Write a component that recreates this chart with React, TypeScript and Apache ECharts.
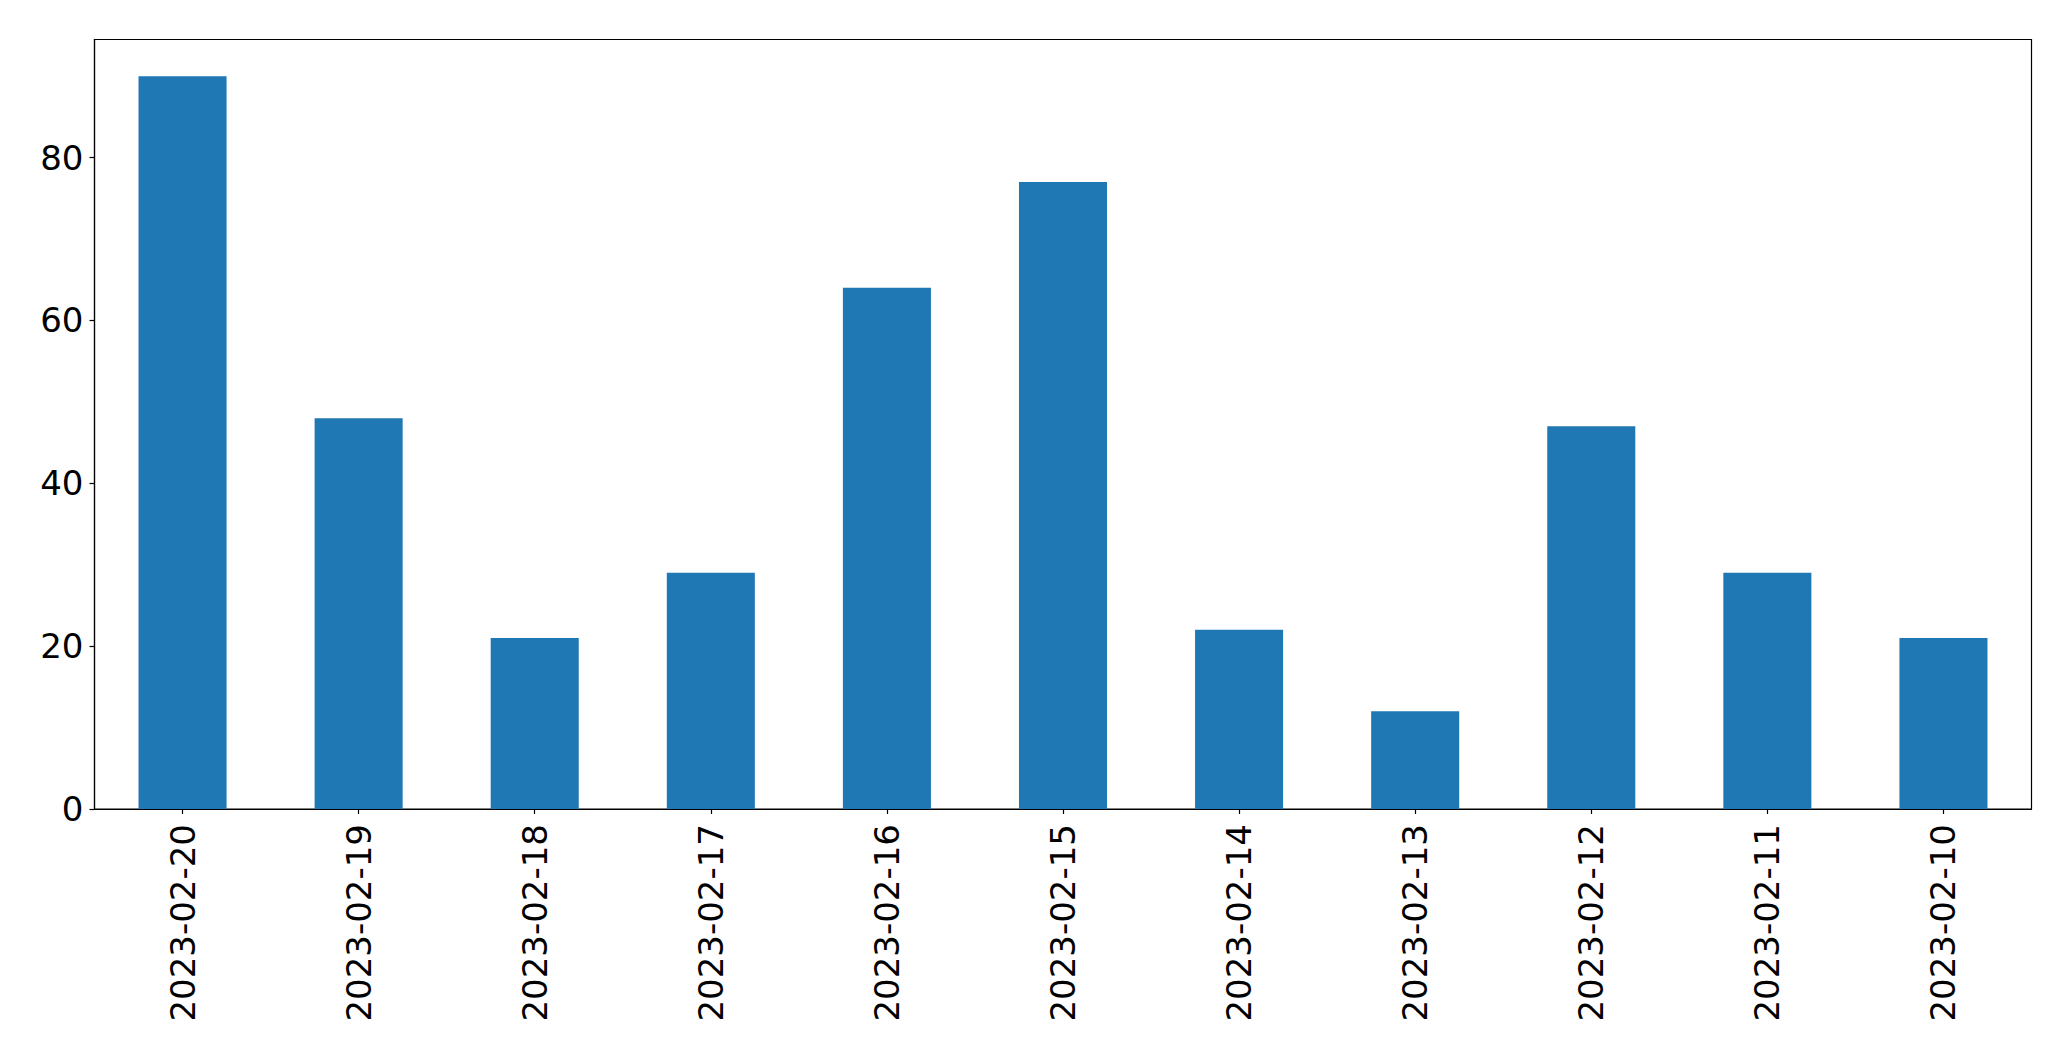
import React, { useEffect, useRef } from "react";
import * as echarts from "echarts";

const categories = [
  "2023-02-20", "2023-02-19", "2023-02-18", "2023-02-17", "2023-02-16", "2023-02-15",
  "2023-02-14", "2023-02-13", "2023-02-12", "2023-02-11", "2023-02-10",
];
const values = [90, 48, 21, 29, 64, 77, 22, 12, 47, 29, 21];
const yTicks = [0, 20, 40, 60, 80];

export default function App() {
  const ref = useRef<HTMLDivElement>(null);
  useEffect(() => {
    if (!ref.current) return;
    const chart = echarts.init(ref.current, undefined, { renderer: "svg" });
    const font = "DejaVu Sans";
    chart.setOption({
      animation: false,
      backgroundColor: "#ffffff",
      grid: {
        left: 94.5,
        top: 39.5,
        right: 39.5,
        bottom: 252,
        show: true,
        borderColor: "#000000",
        borderWidth: 1.2,
        backgroundColor: "transparent",
      },
      xAxis: {
        type: "category",
        data: categories,
        boundaryGap: true,
        axisLine: { show: true, lineStyle: { color: "#000", width: 1.2 } },
        axisTick: { show: true, alignWithLabel: true, length: 5, lineStyle: { color: "#000", width: 1.2 } },
        axisLabel: {
          interval: 0,
          rotate: 90,
          fontSize: 34,
          fontFamily: font,
          color: "#000",
          margin: 15,
        },
        splitLine: { show: false },
      },
      yAxis: {
        type: "value",
        min: 0,
        max: 94.5,
        interval: 20,
        axisLine: { show: true, lineStyle: { color: "#000", width: 1.2 } },
        axisTick: { show: true, length: 5, lineStyle: { color: "#000", width: 1.2 }, customValues: yTicks },
        axisLabel: {
          fontSize: 34,
          fontFamily: font,
          color: "#000",
          margin: 11,
          customValues: yTicks,
        },
        splitLine: { show: false },
      },
      series: [
        {
          type: "bar",
          data: values,
          barWidth: "50%",
          itemStyle: { color: "#1f77b4" },
        },
      ],
    });
    return () => chart.dispose();
  }, []);
  return (
    <div
      ref={ref}
      style={{ position: "fixed", left: 0, top: 0, width: 2071, height: 1061, background: "#fff" }}
    />
  );
}
